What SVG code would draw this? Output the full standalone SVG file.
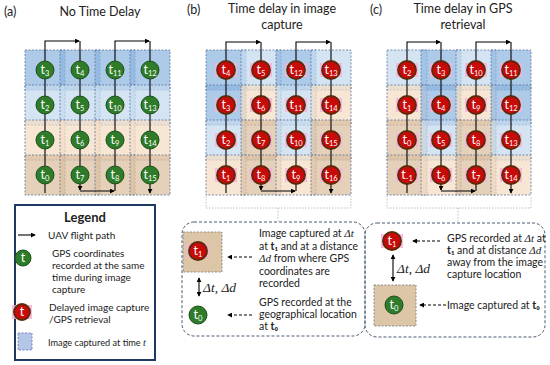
<svg xmlns="http://www.w3.org/2000/svg" width="550" height="365" viewBox="0 0 550 365">
<defs>
<marker id="ah" viewBox="0 0 6 6" refX="5" refY="3" markerWidth="5" markerHeight="5" orient="auto-start-reverse" markerUnits="userSpaceOnUse"><path d="M0,0 L6,3 L0,6 z" fill="#000"/></marker>
</defs>
<style>
text{font-family:Lato,"Liberation Sans",Arial,sans-serif;fill:#222}
.ttl{font-size:12.5px}
.c{stroke:#5a7399;stroke-width:0.8;stroke-dasharray:2,1.5;fill-opacity:0.72}
.B{fill:#8db6e0}.L{fill:#c3d9ef}.P{fill:#f4dcc3}.T{fill:#dbbf9f}
.g{fill:#2e7b2a;stroke:#1d4f1a;stroke-width:1}
.r{fill:#c80a0a;stroke:#5a2a0a;stroke-width:1.8}
.pk{fill:#f7b3d9;opacity:0.85}
.nt{font-size:12.5px;fill:#fff;text-anchor:middle}
.sb{font-size:7.5px}
.fp{fill:none;stroke:#000;stroke-width:1.1}
.tx{font-size:10.5px}
.lg{font-size:10px}
.m{font-family:"Liberation Serif","DejaVu Serif",serif;font-style:italic}
.da{fill:none;stroke:#000;stroke-width:1.1;stroke-dasharray:3,2}
.br{fill:none;stroke:#b0b0b0;stroke-width:0.8;stroke-dasharray:1.5,1.5}
.bx{fill:none;stroke:#4a5a70;stroke-width:1;stroke-dasharray:3,2}
</style>

<!-- titles -->
<text class="ttl" x="4" y="16">(a)</text>
<text class="ttl" x="100" y="16" text-anchor="middle">No Time Delay</text>
<text class="ttl" x="187" y="14">(b)</text>
<text class="ttl" x="282" y="13" text-anchor="middle">Time delay in image</text>
<text class="ttl" x="282" y="29" text-anchor="middle">capture</text>
<text class="ttl" x="370" y="14">(c)</text>
<text class="ttl" x="463" y="13" text-anchor="middle">Time delay in GPS</text>
<text class="ttl" x="463" y="29" text-anchor="middle">retrieval</text>

<!-- grid cells panel a -->
<g id="cells-a">
<rect class="c B" x="25" y="50" width="40" height="40"/><rect class="c B" x="60" y="50" width="40" height="40"/><rect class="c B" x="95" y="50" width="40" height="40"/><rect class="c B" x="130" y="50" width="40" height="40"/>
<rect class="c L" x="25" y="85" width="40" height="40"/><rect class="c L" x="60" y="85" width="40" height="40"/><rect class="c L" x="95" y="85" width="40" height="40"/><rect class="c L" x="130" y="85" width="40" height="40"/>
<rect class="c P" x="25" y="120" width="40" height="40"/><rect class="c P" x="60" y="120" width="40" height="40"/><rect class="c P" x="95" y="120" width="40" height="40"/><rect class="c P" x="130" y="120" width="40" height="40"/>
<rect class="c T" x="25" y="155" width="40" height="40"/><rect class="c T" x="60" y="155" width="40" height="40"/><rect class="c T" x="95" y="155" width="40" height="40"/><rect class="c T" x="130" y="155" width="40" height="40"/>
</g>
<!-- grid cells panel b -->
<g id="cells-b">
<rect class="c B" x="206" y="50" width="40" height="40"/><rect class="c L" x="241" y="50" width="40" height="40"/><rect class="c B" x="276" y="50" width="40" height="40"/><rect class="c L" x="311" y="50" width="40" height="40"/>
<rect class="c B" x="206" y="85" width="40" height="40"/><rect class="c P" x="241" y="85" width="40" height="40"/><rect class="c L" x="276" y="85" width="40" height="40"/><rect class="c P" x="311" y="85" width="40" height="40"/>
<rect class="c L" x="206" y="120" width="40" height="40"/><rect class="c T" x="241" y="120" width="40" height="40"/><rect class="c L" x="276" y="120" width="40" height="40"/><rect class="c T" x="311" y="120" width="40" height="40"/>
<rect class="c P" x="206" y="155" width="40" height="40"/><rect class="c T" x="241" y="155" width="40" height="40"/><rect class="c P" x="276" y="155" width="40" height="40"/><rect class="c T" x="311" y="155" width="40" height="40"/>
</g>
<!-- grid cells panel c -->
<g id="cells-c">
<rect class="c L" x="387" y="50" width="40" height="40"/><rect class="c B" x="421" y="50" width="40" height="40"/><rect class="c L" x="456" y="50" width="40" height="40"/><rect class="c B" x="491" y="50" width="40" height="40"/>
<rect class="c P" x="387" y="85" width="40" height="40"/><rect class="c B" x="421" y="85" width="40" height="40"/><rect class="c P" x="456" y="85" width="40" height="40"/><rect class="c B" x="491" y="85" width="40" height="40"/>
<rect class="c T" x="387" y="120" width="40" height="40"/><rect class="c L" x="421" y="120" width="40" height="40"/><rect class="c T" x="456" y="120" width="40" height="40"/><rect class="c L" x="491" y="120" width="40" height="40"/>
<rect class="c T" x="387" y="155" width="40" height="40"/><rect class="c P" x="421" y="155" width="40" height="40"/><rect class="c T" x="456" y="155" width="40" height="40"/><rect class="c P" x="491" y="155" width="40" height="40"/>
</g>

<!-- connectors: flight paths and annotation arrows -->
<g id="connectors">
<path class="fp" d="M45,193 V41 H79" marker-end="url(#ah)"/>
<path class="fp" d="M80,41 V190" marker-end="url(#ah)"/>
<path class="fp" d="M80,191 H114" marker-end="url(#ah)"/>
<path class="fp" d="M115,191 V41 H149" marker-end="url(#ah)"/>
<path class="fp" d="M150,41 V193" marker-end="url(#ah)"/>

<path class="fp" d="M226,193 V42 H260" marker-end="url(#ah)"/>
<path class="fp" d="M261,42 V190" marker-end="url(#ah)"/>
<path class="fp" d="M261,191 H295" marker-end="url(#ah)"/>
<path class="fp" d="M296,191 V42 H330" marker-end="url(#ah)"/>
<path class="fp" d="M331,42 V193" marker-end="url(#ah)"/>

<path class="fp" d="M407,193 V42 H440" marker-end="url(#ah)"/>
<path class="fp" d="M441,42 V190" marker-end="url(#ah)"/>
<path class="fp" d="M441,191 H475" marker-end="url(#ah)"/>
<path class="fp" d="M476,191 V42 H510" marker-end="url(#ah)"/>
<path class="fp" d="M511,42 V193" marker-end="url(#ah)"/>

<path class="br" d="M206,196 V208 H351 V196 M278,208 V221"/>
<path class="br" d="M387,196 V208 H531 V196 M458,208 V222"/>

<path class="da" d="M252,257 H228" marker-end="url(#ah)"/>
<path class="da" d="M252,315 H228" marker-end="url(#ah)"/>
<path class="fp" d="M199,278 V296" marker-start="url(#ah)" marker-end="url(#ah)"/>

<path class="da" d="M440,241 H413" marker-end="url(#ah)"/>
<path class="da" d="M446,305 H420" marker-end="url(#ah)"/>
<path class="fp" d="M393,255 V281" marker-start="url(#ah)" marker-end="url(#ah)"/>
</g>

<!-- nodes panel a -->
<g id="a-t3"><circle class="g" cx="45" cy="70" r="9"/><text class="nt" x="45" y="74">t<tspan class="sb" dy="2">3</tspan></text></g>
<g id="a-t2"><circle class="g" cx="45" cy="105" r="9"/><text class="nt" x="45" y="109">t<tspan class="sb" dy="2">2</tspan></text></g>
<g id="a-t1"><circle class="g" cx="45" cy="140" r="9"/><text class="nt" x="45" y="144">t<tspan class="sb" dy="2">1</tspan></text></g>
<g id="a-t0"><circle class="g" cx="45" cy="175" r="9"/><text class="nt" x="45" y="179">t<tspan class="sb" dy="2">0</tspan></text></g>
<g id="a-t4"><circle class="g" cx="80" cy="70" r="9"/><text class="nt" x="80" y="74">t<tspan class="sb" dy="2">4</tspan></text></g>
<g id="a-t5"><circle class="g" cx="80" cy="105" r="9"/><text class="nt" x="80" y="109">t<tspan class="sb" dy="2">5</tspan></text></g>
<g id="a-t6"><circle class="g" cx="80" cy="140" r="9"/><text class="nt" x="80" y="144">t<tspan class="sb" dy="2">6</tspan></text></g>
<g id="a-t7"><circle class="g" cx="80" cy="175" r="9"/><text class="nt" x="80" y="179">t<tspan class="sb" dy="2">7</tspan></text></g>
<g id="a-t11"><circle class="g" cx="115" cy="70" r="9"/><text class="nt" x="115" y="74">t<tspan class="sb" dy="2">11</tspan></text></g>
<g id="a-t10"><circle class="g" cx="115" cy="105" r="9"/><text class="nt" x="115" y="109">t<tspan class="sb" dy="2">10</tspan></text></g>
<g id="a-t9"><circle class="g" cx="115" cy="140" r="9"/><text class="nt" x="115" y="144">t<tspan class="sb" dy="2">9</tspan></text></g>
<g id="a-t8"><circle class="g" cx="115" cy="175" r="9"/><text class="nt" x="115" y="179">t<tspan class="sb" dy="2">8</tspan></text></g>
<g id="a-t12"><circle class="g" cx="150" cy="70" r="9"/><text class="nt" x="150" y="74">t<tspan class="sb" dy="2">12</tspan></text></g>
<g id="a-t13"><circle class="g" cx="150" cy="105" r="9"/><text class="nt" x="150" y="109">t<tspan class="sb" dy="2">13</tspan></text></g>
<g id="a-t14"><circle class="g" cx="150" cy="140" r="9"/><text class="nt" x="150" y="144">t<tspan class="sb" dy="2">14</tspan></text></g>
<g id="a-t15"><circle class="g" cx="150" cy="175" r="9"/><text class="nt" x="150" y="179">t<tspan class="sb" dy="2">15</tspan></text></g>

<!-- nodes panel b -->
<g id="b-t4"><rect class="pk" x="215" y="63" width="22" height="14"/><circle class="r" cx="226" cy="70" r="9"/><text class="nt" x="226" y="74">t<tspan class="sb" dy="2">4</tspan></text></g>
<g id="b-t3"><rect class="pk" x="215" y="98" width="22" height="14"/><circle class="r" cx="226" cy="105" r="9"/><text class="nt" x="226" y="109">t<tspan class="sb" dy="2">3</tspan></text></g>
<g id="b-t2"><rect class="pk" x="215" y="133" width="22" height="14"/><circle class="r" cx="226" cy="140" r="9"/><text class="nt" x="226" y="144">t<tspan class="sb" dy="2">2</tspan></text></g>
<g id="b-t1"><rect class="pk" x="215" y="168" width="22" height="14"/><circle class="r" cx="226" cy="175" r="9"/><text class="nt" x="226" y="179">t<tspan class="sb" dy="2">1</tspan></text></g>
<g id="b-t5"><rect class="pk" x="250" y="63" width="22" height="14"/><circle class="r" cx="261" cy="70" r="9"/><text class="nt" x="261" y="74">t<tspan class="sb" dy="2">5</tspan></text></g>
<g id="b-t6"><rect class="pk" x="250" y="98" width="22" height="14"/><circle class="r" cx="261" cy="105" r="9"/><text class="nt" x="261" y="109">t<tspan class="sb" dy="2">6</tspan></text></g>
<g id="b-t7"><rect class="pk" x="250" y="133" width="22" height="14"/><circle class="r" cx="261" cy="140" r="9"/><text class="nt" x="261" y="144">t<tspan class="sb" dy="2">7</tspan></text></g>
<g id="b-t8"><rect class="pk" x="250" y="168" width="22" height="14"/><circle class="r" cx="261" cy="175" r="9"/><text class="nt" x="261" y="179">t<tspan class="sb" dy="2">8</tspan></text></g>
<g id="b-t12"><rect class="pk" x="285" y="63" width="22" height="14"/><circle class="r" cx="296" cy="70" r="9"/><text class="nt" x="296" y="74">t<tspan class="sb" dy="2">12</tspan></text></g>
<g id="b-t11"><rect class="pk" x="285" y="98" width="22" height="14"/><circle class="r" cx="296" cy="105" r="9"/><text class="nt" x="296" y="109">t<tspan class="sb" dy="2">11</tspan></text></g>
<g id="b-t10"><rect class="pk" x="285" y="133" width="22" height="14"/><circle class="r" cx="296" cy="140" r="9"/><text class="nt" x="296" y="144">t<tspan class="sb" dy="2">10</tspan></text></g>
<g id="b-t9"><rect class="pk" x="285" y="168" width="22" height="14"/><circle class="r" cx="296" cy="175" r="9"/><text class="nt" x="296" y="179">t<tspan class="sb" dy="2">9</tspan></text></g>
<g id="b-t13"><rect class="pk" x="320" y="63" width="22" height="14"/><circle class="r" cx="331" cy="70" r="9"/><text class="nt" x="331" y="74">t<tspan class="sb" dy="2">13</tspan></text></g>
<g id="b-t14"><rect class="pk" x="320" y="98" width="22" height="14"/><circle class="r" cx="331" cy="105" r="9"/><text class="nt" x="331" y="109">t<tspan class="sb" dy="2">14</tspan></text></g>
<g id="b-t15"><rect class="pk" x="320" y="133" width="22" height="14"/><circle class="r" cx="331" cy="140" r="9"/><text class="nt" x="331" y="144">t<tspan class="sb" dy="2">15</tspan></text></g>
<g id="b-t16"><rect class="pk" x="320" y="168" width="22" height="14"/><circle class="r" cx="331" cy="175" r="9"/><text class="nt" x="331" y="179">t<tspan class="sb" dy="2">16</tspan></text></g>

<!-- nodes panel c -->
<g id="c-t2"><rect class="pk" x="396" y="63" width="22" height="14"/><circle class="r" cx="407" cy="70" r="9"/><text class="nt" x="407" y="74">t<tspan class="sb" dy="2">2</tspan></text></g>
<g id="c-t1"><rect class="pk" x="396" y="98" width="22" height="14"/><circle class="r" cx="407" cy="105" r="9"/><text class="nt" x="407" y="109">t<tspan class="sb" dy="2">1</tspan></text></g>
<g id="c-t0"><rect class="pk" x="396" y="133" width="22" height="14"/><circle class="r" cx="407" cy="140" r="9"/><text class="nt" x="407" y="144">t<tspan class="sb" dy="2">0</tspan></text></g>
<g id="c-tm1"><rect class="pk" x="396" y="168" width="22" height="14"/><circle class="r" cx="407" cy="175" r="9"/><text class="nt" x="407" y="179">t<tspan class="sb" dy="2">-1</tspan></text></g>
<g id="c-t3"><rect class="pk" x="430" y="63" width="22" height="14"/><circle class="r" cx="441" cy="70" r="9"/><text class="nt" x="441" y="74">t<tspan class="sb" dy="2">3</tspan></text></g>
<g id="c-t4"><rect class="pk" x="430" y="98" width="22" height="14"/><circle class="r" cx="441" cy="105" r="9"/><text class="nt" x="441" y="109">t<tspan class="sb" dy="2">4</tspan></text></g>
<g id="c-t5"><rect class="pk" x="430" y="133" width="22" height="14"/><circle class="r" cx="441" cy="140" r="9"/><text class="nt" x="441" y="144">t<tspan class="sb" dy="2">5</tspan></text></g>
<g id="c-t6"><rect class="pk" x="430" y="168" width="22" height="14"/><circle class="r" cx="441" cy="175" r="9"/><text class="nt" x="441" y="179">t<tspan class="sb" dy="2">6</tspan></text></g>
<g id="c-t10"><rect class="pk" x="465" y="63" width="22" height="14"/><circle class="r" cx="476" cy="70" r="9"/><text class="nt" x="476" y="74">t<tspan class="sb" dy="2">10</tspan></text></g>
<g id="c-t9"><rect class="pk" x="465" y="98" width="22" height="14"/><circle class="r" cx="476" cy="105" r="9"/><text class="nt" x="476" y="109">t<tspan class="sb" dy="2">9</tspan></text></g>
<g id="c-t8"><rect class="pk" x="465" y="133" width="22" height="14"/><circle class="r" cx="476" cy="140" r="9"/><text class="nt" x="476" y="144">t<tspan class="sb" dy="2">8</tspan></text></g>
<g id="c-t7"><rect class="pk" x="465" y="168" width="22" height="14"/><circle class="r" cx="476" cy="175" r="9"/><text class="nt" x="476" y="179">t<tspan class="sb" dy="2">7</tspan></text></g>
<g id="c-t11"><rect class="pk" x="500" y="63" width="22" height="14"/><circle class="r" cx="511" cy="70" r="9"/><text class="nt" x="511" y="74">t<tspan class="sb" dy="2">11</tspan></text></g>
<g id="c-t12"><rect class="pk" x="500" y="98" width="22" height="14"/><circle class="r" cx="511" cy="105" r="9"/><text class="nt" x="511" y="109">t<tspan class="sb" dy="2">12</tspan></text></g>
<g id="c-t13"><rect class="pk" x="500" y="133" width="22" height="14"/><circle class="r" cx="511" cy="140" r="9"/><text class="nt" x="511" y="144">t<tspan class="sb" dy="2">13</tspan></text></g>
<g id="c-t14"><rect class="pk" x="500" y="168" width="22" height="14"/><circle class="r" cx="511" cy="175" r="9"/><text class="nt" x="511" y="179">t<tspan class="sb" dy="2">14</tspan></text></g>

<!-- legend -->
<g id="legend">
<rect x="15" y="205" width="140" height="155" fill="#fff" stroke="#1f3864" stroke-width="2"/>
<text x="85" y="222" text-anchor="middle" font-size="13" font-weight="bold">Legend</text>
<path class="fp" d="M18,235 H35" marker-end="url(#ah)"/>
<text class="lg" x="48" y="238.5">UAV flight path</text>
<circle class="g" cx="23" cy="258" r="8"/><text class="nt" x="23" y="262" font-size="11">t</text>
<text class="lg" x="52" y="256.5">GPS coordinates</text>
<text class="lg" x="52" y="268.5">recorded at the same</text>
<text class="lg" x="52" y="280.5">time during image</text>
<text class="lg" x="52" y="292.5">capture</text>
<rect class="pk" x="12" y="305" width="20" height="14"/>
<circle class="r" cx="22" cy="312" r="8"/><text class="nt" x="22" y="316" font-size="11">t</text>
<text class="lg" x="49" y="310.5">Delayed image capture</text>
<text class="lg" x="49" y="322.5">/GPS retrieval</text>
<rect x="18" y="333" width="14" height="17" fill="#b4c7e7" stroke="#5b6fae" stroke-width="0.8" stroke-dasharray="2,1.5"/>
<text x="48" y="346" font-size="9.2">Image captured at time <tspan class="m" font-size="10">t</tspan></text>
</g>

<!-- explanation box b -->
<g id="box-b">
<rect class="bx" x="182" y="222" width="183" height="114" rx="12"/>
<rect x="183" y="232" width="39" height="40" fill="#dcc6a7" stroke="#777" stroke-width="0.8" stroke-dasharray="2,1.5"/>
<rect class="pk" x="187" y="244" width="22" height="14"/>
<circle class="r" cx="198" cy="251" r="9"/><text class="nt" x="198" y="255">t<tspan class="sb" dy="2">1</tspan></text>
<circle class="g" cx="198" cy="315" r="9"/><text class="nt" x="198" y="319">t<tspan class="sb" dy="2">0</tspan></text>
<text x="203" y="292" font-size="13.5" class="m">Δt, Δd</text>
<text class="tx" x="259" y="237">Image captured at <tspan class="m" font-size="11">Δt</tspan></text>
<text class="tx" x="259" y="249.5">at <tspan font-weight="bold">t₁</tspan> and at a distance</text>
<text class="tx" x="259" y="262"><tspan class="m" font-size="11">Δd</tspan> from where GPS</text>
<text class="tx" x="259" y="274.5">coordinates are</text>
<text class="tx" x="259" y="287">recorded</text>
<text class="tx" x="259" y="305.5">GPS recorded at the</text>
<text class="tx" x="259" y="317.5">geographical location</text>
<text class="tx" x="259" y="329.5">at <tspan font-weight="bold">t₀</tspan></text>
</g>

<!-- explanation box c -->
<g id="box-c">
<rect class="bx" x="365" y="223" width="180" height="114" rx="12"/>
<rect class="pk" x="381" y="234" width="22" height="14"/>
<circle class="r" cx="392" cy="241" r="9"/><text class="nt" x="392" y="245">t<tspan class="sb" dy="2">1</tspan></text>
<text x="397" y="273" font-size="13.5" class="m">Δt, Δd</text>
<rect x="374" y="285" width="42" height="41" fill="#dcc6a7" stroke="#777" stroke-width="0.8" stroke-dasharray="2,1.5"/>
<circle class="g" cx="394" cy="305" r="9"/><text class="nt" x="394" y="309">t<tspan class="sb" dy="2">0</tspan></text>
<text class="tx" x="447" y="241.5">GPS recorded at <tspan class="m" font-size="11">Δt</tspan> at</text>
<text class="tx" x="447" y="254"><tspan font-weight="bold">t₁</tspan> and at distance <tspan class="m" font-size="11">Δd</tspan></text>
<text class="tx" x="447" y="266">away from the image</text>
<text class="tx" x="447" y="278">capture location</text>
<text class="tx" x="447" y="308.5">Image captured at <tspan font-weight="bold">t₀</tspan></text>
</g>
</svg>
